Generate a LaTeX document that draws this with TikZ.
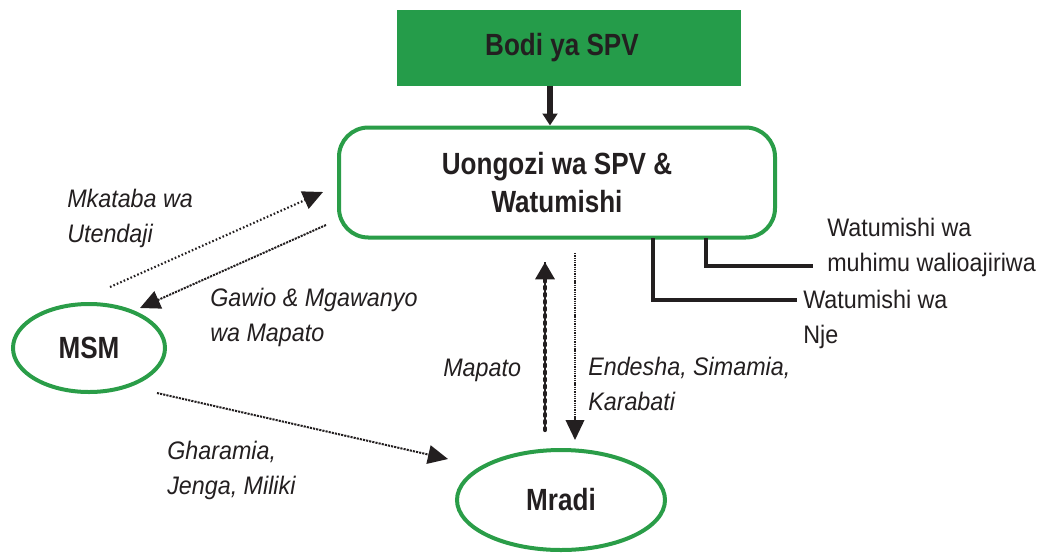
\documentclass[tikz,border=0pt]{standalone}
\usepackage{fontspec}
\setmainfont{Liberation Sans}[FakeStretch=0.92]
\newfontfamily\condfont{Liberation Sans}[FakeStretch=0.85]
\usetikzlibrary{arrows.meta,shapes.geometric}
\definecolor{spvgreen}{HTML}{259C4A}
\definecolor{linegreen}{HTML}{2A9D48}
\definecolor{ink}{HTML}{231F20}
\begin{document}
\begin{tikzpicture}[x=0.75pt,y=-0.75pt,
  lbl/.style={font=\fontsize{19}{25.8}\selectfont\itshape, text=ink, align=left, anchor=base west, inner sep=0pt},
  plainlbl/.style={font=\fontsize{19}{25.8}\selectfont, text=ink, align=left, anchor=base west, inner sep=0pt},
  titletext/.style={font=\condfont\bfseries\fontsize{23}{28.5}\selectfont, text=ink, align=center},
  boardbox/.style={titletext, fill=spvgreen, draw=none, minimum width=258pt, minimum height=57pt},
  mgmtbox/.style={titletext, draw=linegreen, line width=3pt, rounded corners=22pt, minimum width=327pt, minimum height=82.5pt, fill=white},
  oval/.style={titletext, ellipse, draw=linegreen, line width=3pt, inner sep=0pt},
  bigtip/.style={-{Triangle[length=15pt,width=14pt]}},
  dotline/.style={ink, line width=1.6pt, dash pattern=on 1.2pt off 1.6pt},
  densedot/.style={ink, line width=1.5pt, dash pattern=on 1.6pt off 0.8pt},
  beadline/.style={ink, line width=3.2pt, line cap=round, dash pattern=on 1.4pt off 3.9pt,
    preaction={draw=ink, line width=1.2pt, solid, -}},
  thinline/.style={ink, line width=1.2pt, dash pattern=on 1pt off 0.7pt},
  bracket/.style={ink, line width=3.2pt}
]
\useasboundingbox (0,0) rectangle (1049,554);

\node[boardbox] (board) at (569,47.5) {Bodi ya SPV\hspace*{10.5pt}};
\node[mgmtbox] (mgmt) at (557,182.5) {Uongozi wa SPV \&\\Watumishi};
\node[oval, minimum width=114pt, minimum height=66pt] (msm) at (89,348) {MSM};
\node[oval, minimum width=156pt, minimum height=75pt] (mradi) at (561,500) {Mradi};

% board -> management
\draw[ink, line width=3.8pt, -{Triangle[length=9pt,width=11pt]}] ([xshift=-14.25pt]board.south) -- ([xshift=-5.25pt]mgmt.north);

% connector end points
\coordinate (mkA) at (110,287);
\coordinate (mkB) at (323,192);
\coordinate (gwA) at (326,225);
\coordinate (gwB) at (140,308);
\coordinate (mpA) at (545,430);
\coordinate (mpB) at (545,262);
\coordinate (enA) at (575,253);
\coordinate (enB) at (575,440);
\coordinate (ghA) at (157,393);
\coordinate (ghB) at (448,459);
\coordinate (njeTop) at (653,238);
\coordinate (nje) at (797,300);
\coordinate (muhTop) at (706,238);
\coordinate (muh) at (813,266);

\draw[dotline, bigtip] (mkA) -- (mkB);
\draw[densedot, bigtip] (gwA) -- (gwB);
\draw[beadline, -{Triangle[length=13pt,width=14pt]}] (mpA) -- (mpB);
\draw[thinline, bigtip] (enA) -- (enB);
\draw[densedot, bigtip] (ghA) -- (ghB);

\draw[bracket] (njeTop) |- (nje);
\draw[bracket] (muhTop) |- (muh);

% labels (base anchor = baseline of last line)
\node[lbl] (tMk) at (67,242) {Mkataba wa\\Utendaji};
\node[lbl] (tGw) at (210,341) {Gawio \& Mgawanyo\\wa Mapato};
\node[lbl] (tMp) at (443,376) {Mapato};
\node[lbl] (tEn) at (588,410) {Endesha, Simamia,\\Karabati};
\node[lbl] (tGh) at (167,494) {Gharamia,\\Jenga, Miliki};
\node[plainlbl] (tMuh) at (827,271) {Watumishi wa\\muhimu walioajiriwa};
\node[plainlbl] (tNje) at (803,343) {Watumishi wa\\Nje};
\end{tikzpicture}
\end{document}
